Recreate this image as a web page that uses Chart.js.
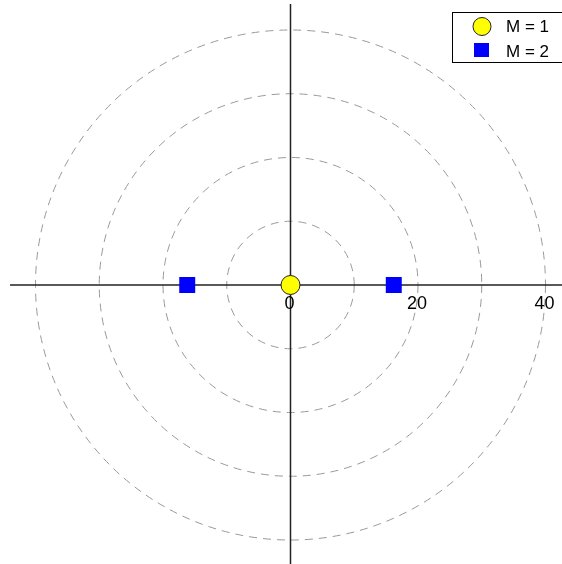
<!DOCTYPE html>
<html>
<head>
<meta charset="utf-8">
<script src="https://cdn.jsdelivr.net/npm/chart.js@4"></script>
<style>
  html, body { margin: 0; padding: 0; background: #fff; }
  #wrap { width: 562px; height: 564px; }
</style>
</head>
<body>
<div id="wrap"><canvas id="chart"></canvas></div>
<script>
// ==================== DATA ====================
const m1X = [0];
const m1Y = [0];
const m2X = [-16.2, 16.2];
const m2Y = [0, 0];
const ringRadii = [10, 20, 30, 40];
const tickValues = [0, 20, 40];
const seriesLabels = ['M = 1', 'M = 2'];

// axis extents (data units)
const X_MIN = -45.57, X_MAX = 42.59;
const Y_MIN = -43.76, Y_MAX = 44.7;
const AXIS_X = [-44, X_MAX];
const AXIS_Y = [44.08, Y_MIN];

const toPoints = (xs, ys) => xs.map((x, i) => ({ x: x, y: ys[i] }));

// ==================== PLUGINS ====================
const rings = {
    id: 'rings',
    beforeDatasetsDraw(chart) {
        const { ctx, scales: { x, y } } = chart;
        const cx = x.getPixelForValue(0), cy = y.getPixelForValue(0);
        ctx.save();
        ctx.strokeStyle = '#999';
        ctx.lineWidth = 1;
        ctx.setLineDash([8, 6]);
        ringRadii.forEach(r => {
            const rx = x.getPixelForValue(r) - cx;
            const ry = cy - y.getPixelForValue(r);
            ctx.beginPath();
            ctx.ellipse(cx, cy, rx, ry, 0, 0, Math.PI * 2);
            ctx.stroke();
        });
        ctx.restore();
    },
    afterDatasetsDraw(chart) {
        const { ctx, scales: { x, y } } = chart;
        const cy = y.getPixelForValue(0);
        ctx.save();
        ctx.fillStyle = '#000';
        ctx.font = '18px "Liberation Sans", Arial, sans-serif';
        ctx.textAlign = 'center';
        ctx.textBaseline = 'middle';
        tickValues.forEach(v => {
            ctx.fillText(String(v), x.getPixelForValue(v) - 1, cy + 19);
        });
        ctx.restore();
    }
};

const boxLegend = {
    id: 'boxLegend',
    afterDraw(chart) {
        const ctx = chart.ctx;
        ctx.save();
        ctx.fillStyle = '#fff';
        ctx.strokeStyle = '#000';
        ctx.lineWidth = 1;
        ctx.fillRect(452.5, 12.5, 120, 50);
        ctx.strokeRect(452.5, 12.5, 120, 50);

        // M = 1 marker
        ctx.beginPath();
        ctx.arc(482, 26.5, 9, 0, Math.PI * 2);
        ctx.fillStyle = '#ffff00';
        ctx.fill();
        ctx.strokeStyle = '#222';
        ctx.stroke();
        // M = 2 marker
        ctx.fillStyle = '#0000ff';
        ctx.fillRect(474, 43, 15, 14);

        ctx.fillStyle = '#000';
        ctx.font = '17px "Liberation Sans", Arial, sans-serif';
        ctx.textAlign = 'left';
        ctx.textBaseline = 'alphabetic';
        ctx.fillText(seriesLabels[0], 506, 32);
        ctx.fillText(seriesLabels[1], 506, 57);
        ctx.restore();
    }
};

// ==================== CHART ====================
new Chart(document.getElementById('chart'), {
    type: 'scatter',
    data: {
        datasets: [
            {
                label: 'x-axis',
                data: toPoints(AXIS_X, [0, 0]),
                showLine: true,
                borderColor: '#222',
                borderWidth: 1.5,
                pointRadius: 0,
                order: 3
            },
            {
                label: 'y-axis',
                data: toPoints([0, 0], AXIS_Y),
                showLine: true,
                borderColor: '#222',
                borderWidth: 1.5,
                pointRadius: 0,
                order: 3
            },
            {
                label: seriesLabels[1],
                data: toPoints(m2X, m2Y),
                pointStyle: 'rect',
                pointRadius: 11.3,
                backgroundColor: '#0000ff',
                borderColor: '#0000ff',
                borderWidth: 0,
                order: 2
            },
            {
                label: seriesLabels[0],
                data: toPoints(m1X, m1Y),
                pointStyle: 'circle',
                pointRadius: 9.5,
                backgroundColor: '#ffff00',
                borderColor: '#222',
                borderWidth: 1,
                order: 1
            }
        ]
    },
    options: {
        responsive: true,
        maintainAspectRatio: false,
        animation: false,
        layout: { padding: 0, autoPadding: false },
        plugins: {
            legend: { display: false },
            tooltip: { enabled: false }
        },
        scales: {
            x: { type: 'linear', min: X_MIN, max: X_MAX, display: false },
            y: { type: 'linear', min: Y_MIN, max: Y_MAX, display: false }
        }
    },
    plugins: [rings, boxLegend]
});
</script>
</body>
</html>
